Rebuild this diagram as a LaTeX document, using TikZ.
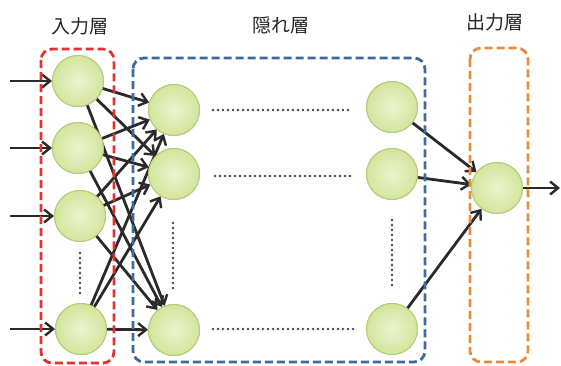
\documentclass[tikz,border=0pt]{standalone}
\usepackage{fontspec}
\newfontfamily\jpfont{Noto Sans CJK JP}
\usetikzlibrary{arrows.meta}
\definecolor{nodefill}{HTML}{D3E59C}
\definecolor{nodeinner}{HTML}{EBF4CF}
\definecolor{nodeedge}{HTML}{B3CB7C}
\definecolor{inred}{HTML}{E0332E}
\definecolor{hidblue}{HTML}{3D6B9C}
\definecolor{outorange}{HTML}{EC8A3C}
\definecolor{linkgray}{HTML}{2A2A2A}
\definecolor{dotcol}{HTML}{4E3E52}
\tikzset{
  neuron/.style={circle, minimum size=51pt, inner sep=0pt, draw=nodeedge, line width=1pt,
    inner color=nodeinner, outer color=nodefill},
  link/.style={draw=linkgray, line width=2.8pt, -{Straight Barb[length=8pt,width=13pt,line width=2.4pt]}},
  layerbox/.style={dash pattern=on 8pt off 4pt, line width=2.8pt, rounded corners=11pt},
  dotline/.style={draw=dotcol, line width=2.8pt, line cap=round, dash pattern=on 0pt off 5pt},
  caption/.style={font=\jpfont\fontsize{19}{21}\selectfont, text=black!85}
}
\begin{document}
\begin{tikzpicture}[x=1pt,y=-1pt]
\useasboundingbox (0,0) rectangle (561,365);

% input layer
\node[neuron] (i1) at (78,81) {};
\node[neuron] (i2) at (78,148) {};
\node[neuron] (i3) at (80,216) {};
\node[neuron] (i4) at (81,329) {};
% hidden layer, first and last columns
\node[neuron] (h1) at (174,110) {};
\node[neuron] (h2) at (174,174) {};
\node[neuron] (h3) at (174,330) {};
\node[neuron] (g1) at (392,107) {};
\node[neuron] (g2) at (392,174) {};
\node[neuron] (g3) at (392,329) {};
% output layer
\node[neuron] (o1) at (497,188) {};

% free ends of the outer arrows
\coordinate (s1) at (10,81);
\coordinate (s2) at (10,148);
\coordinate (s3) at (10,216);
\coordinate (s4) at (10,329);
\coordinate (e1) at (560,188);

% connectors
\foreach \k in {1,2,3,4} \draw[link] (s\k) -- (i\k);
\foreach \a in {1,2,3,4}
  \foreach \b in {1,2,3}
    \draw[link, shorten <=-2pt] (i\a) -- (h\b);
\foreach \b in {1,2,3} \draw[link] (g\b) -- (o1);
\draw[link] (o1) -- (e1);

% nodes redrawn on top of the connectors
\foreach \n in {i1,i2,i3,i4,h1,h2,h3,g1,g2,g3,o1}
  \node[neuron] at (\n) {};

% layer frames
\draw[layerbox, draw=inred] (41,49) rectangle (114,363);
\draw[layerbox, draw=hidblue] (133,58) rectangle (425,362);
\draw[layerbox, draw=outorange] (470,48) rectangle (528,362);

% ellipsis dots
\coordinate (d1a) at (213,110); \coordinate (d1b) at (352,110);
\coordinate (d2a) at (215,176); \coordinate (d2b) at (352,176);
\coordinate (d3a) at (213,329); \coordinate (d3b) at (354,329);
\coordinate (v1a) at (173,223); \coordinate (v1b) at (173,292);
\coordinate (v2a) at (392,220); \coordinate (v2b) at (392,288);
\coordinate (v3a) at (80,253);  \coordinate (v3b) at (80,297);
\draw[dotline] (d1a) -- (d1b);
\draw[dotline] (d2a) -- (d2b);
\draw[dotline] (d3a) -- (d3b);
\draw[dotline] (v1a) -- (v1b);
\draw[dotline] (v2a) -- (v2b);
\draw[dotline] (v3a) -- (v3b);

% layer titles
\node[caption] (t1) at (80,26) {入力層};
\node[caption] (t2) at (281,25) {隠れ層};
\node[caption] (t3) at (495,22) {出力層};
\end{tikzpicture}
\end{document}
